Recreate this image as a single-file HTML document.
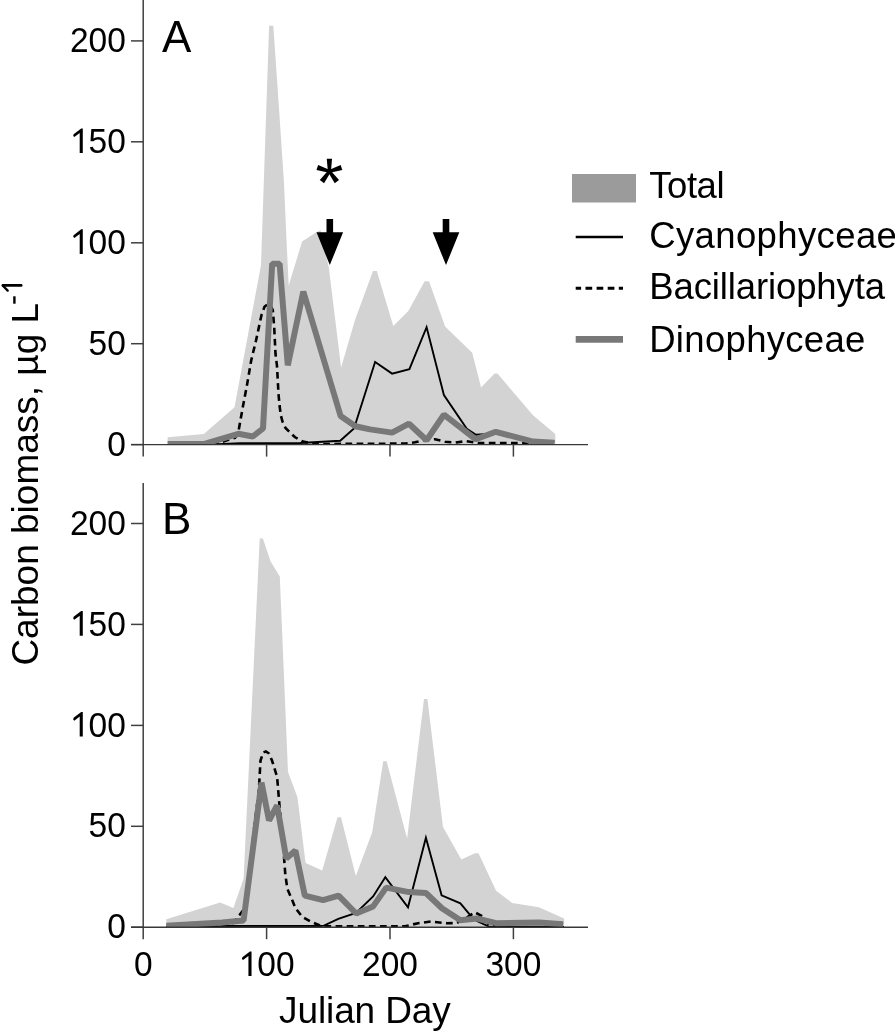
<!DOCTYPE html>
<html><head><meta charset="utf-8"><style>html,body{margin:0;padding:0;background:#fff;}svg{display:block;} text{-webkit-font-smoothing:antialiased;}</style></head>
<body><svg style="will-change:transform" width="895" height="1032" viewBox="0 0 895 1032" font-family="Liberation Sans, sans-serif">
<rect width="895" height="1032" fill="#fff"/>
<clipPath id="cA"><rect x="143.2" y="0" width="450" height="444.6"/></clipPath><g clip-path="url(#cA)"><polygon points="167.6,444.5 167.6,437.3 203.8,434.0 234.5,407.2 261.0,265.0 269.1,25.7 273.3,25.7 278.5,101.0 284.0,183.0 286.5,240.0 288.7,285.5 302.1,241.5 316.2,232.3 320.5,230.2 328.9,268.0 341.1,367.4 355.0,320.0 373.0,271.1 376.8,271.1 393.3,326.0 408.5,310.8 424.6,281.3 429.0,281.3 445.1,326.5 472.2,352.7 481.1,387.6 494.5,373.6 497.5,373.6 533.0,415.3 555.3,434.1 555.3,444.5" fill="#d3d3d3"/><polyline points="212.0,444.3 222.0,442.0 230.0,439.3 235.0,437.8 237.5,434.5 238.8,429.5 242.6,408.2 247.0,384.9 251.2,360.5 256.0,340.6 261.5,315.0 264.5,306.8 267.5,304.3 270.5,305.5 272.8,310.0 274.2,327.0 275.5,354.0 277.0,366.0 278.5,394.0 279.6,406.0 280.9,415.7 282.5,421.5 285.5,428.0 290.0,432.5 295.1,437.3 303.0,441.6 312.0,443.5 320.0,444.0 405.0,443.6 415.0,442.3 426.0,439.8 435.0,439.2 445.0,441.8 455.0,442.6 466.0,441.2 478.0,443.0 555.0,443.2" fill="none" stroke="#000" stroke-width="2.6" stroke-dasharray="6.7 4.4"/><polyline points="213.0,444.4 240.0,443.3 300.0,443.0 340.2,440.7 354.0,428.5 375.1,362.0 392.1,373.6 409.4,369.2 426.6,327.2 443.9,395.1 466.8,428.7 476.0,434.8 495.8,433.5 533.0,441.5 554.4,441.5" fill="none" stroke="#000" stroke-width="1.9" stroke-linejoin="miter"/><polyline points="167.6,443.9 204.5,443.9 238.3,433.8 252.8,436.5 263.0,428.5 272.2,263.7 279.6,263.7 287.8,365.3 303.3,291.5 340.6,416.0 355.4,426.2 370.0,429.4 392.1,432.6 409.0,423.7 426.6,440.3 443.9,414.7 475.8,439.3 495.8,431.8 533.0,441.6 554.4,442.8" fill="none" stroke="#787878" stroke-width="6" stroke-linejoin="bevel"/></g><line x1="143.2" y1="0" x2="143.2" y2="456.6" stroke="#404040" stroke-width="1.5"/><line x1="131" y1="444.6" x2="143.2" y2="444.6" stroke="#404040" stroke-width="1.5"/><text transform="translate(107.17,455.80) scale(1,1.065)" font-size="33.5">0</text><line x1="131" y1="343.7" x2="143.2" y2="343.7" stroke="#404040" stroke-width="1.5"/><text transform="translate(88.55,354.88) scale(1,1.065)" font-size="33.5">5</text><text transform="translate(107.17,354.88) scale(1,1.065)" font-size="33.5">0</text><line x1="131" y1="242.8" x2="143.2" y2="242.8" stroke="#404040" stroke-width="1.5"/><path d="M79.70,253.95 L82.79,253.95 L82.79,229.33 L81.21,229.33 L73.61,235.19 L73.20,236.87 L74.31,238.04 L79.70,234.02 Z" fill="#000"/><text transform="translate(88.55,253.95) scale(1,1.065)" font-size="33.5">0</text><text transform="translate(107.17,253.95) scale(1,1.065)" font-size="33.5">0</text><line x1="131" y1="141.8" x2="143.2" y2="141.8" stroke="#404040" stroke-width="1.5"/><path d="M79.70,153.03 L82.79,153.03 L82.79,128.40 L81.21,128.40 L73.61,134.27 L73.20,135.94 L74.31,137.11 L79.70,133.09 Z" fill="#000"/><text transform="translate(88.55,153.03) scale(1,1.065)" font-size="33.5">5</text><text transform="translate(107.17,153.03) scale(1,1.065)" font-size="33.5">0</text><line x1="131" y1="40.9" x2="143.2" y2="40.9" stroke="#404040" stroke-width="1.5"/><text transform="translate(69.92,52.10) scale(1,1.065)" font-size="33.5">2</text><text transform="translate(88.55,52.10) scale(1,1.065)" font-size="33.5">0</text><text transform="translate(107.17,52.10) scale(1,1.065)" font-size="33.5">0</text><line x1="131" y1="444.6" x2="588" y2="444.6" stroke="#383838" stroke-width="1.4"/><line x1="266.6" y1="444.6" x2="266.6" y2="456.6" stroke="#404040" stroke-width="1.5"/><line x1="390.0" y1="444.6" x2="390.0" y2="456.6" stroke="#404040" stroke-width="1.5"/><line x1="513.4" y1="444.6" x2="513.4" y2="456.6" stroke="#404040" stroke-width="1.5"/><text x="162" y="51.7" font-size="44">A</text>
<clipPath id="cB"><rect x="143.2" y="483" width="450" height="444.20000000000005"/></clipPath><g clip-path="url(#cB)"><polygon points="166.3,927.2 166.3,919.2 220.2,902.5 233.4,908.0 243.6,878.5 259.7,538.6 262.9,538.6 270.6,561.5 279.8,576.6 288.0,772.0 297.4,797.1 305.6,863.0 322.2,870.6 337.5,817.3 341.0,817.3 355.8,876.0 372.2,832.2 383.2,761.3 386.6,761.3 407.1,838.4 424.0,699.1 427.4,699.1 443.0,827.0 461.3,859.5 475.0,853.3 478.5,853.3 496.1,890.8 512.2,903.0 539.0,907.3 564.1,918.5 564.1,927.2" fill="#d3d3d3"/><polyline points="166.3,926.9 225.0,926.5 231.3,925.0 239.5,915.0 245.6,907.0 249.7,872.4 253.7,831.7 258.8,791.0 260.5,760.5 263.3,752.5 265.9,751.4 269.0,753.5 272.0,760.5 277.1,776.8 279.1,801.2 283.5,850.0 285.3,874.4 287.4,889.0 291.8,899.1 295.4,907.9 302.0,916.6 310.7,921.7 319.4,925.3 326.0,926.3 405.0,926.3 418.0,923.2 431.0,921.5 447.3,923.3 456.8,923.0 466.0,918.0 474.7,912.3 483.6,916.8 489.0,925.0 500.0,926.5" fill="none" stroke="#000" stroke-width="2.6" stroke-dasharray="6.7 4.4"/><polyline points="166.3,927.2 200.0,927.0 230.0,926.0 320.0,926.0 324.0,925.6 338.3,918.9 356.0,913.0 373.1,896.5 385.3,877.2 408.0,907.3 425.9,837.8 441.6,895.3 460.4,903.3 470.8,915.9 476.8,921.0 489.0,926.6 564.0,926.9" fill="none" stroke="#000" stroke-width="1.9" stroke-linejoin="miter"/><polyline points="166.3,925.8 222.2,922.6 243.6,920.4 261.5,782.6 269.0,820.5 277.1,805.5 286.3,858.5 295.4,850.5 304.8,895.6 323.1,900.1 338.6,895.6 356.1,913.5 373.1,906.4 386.2,887.6 408.9,892.1 425.9,893.0 441.9,908.2 460.4,920.3 476.8,918.5 496.1,923.2 539.0,922.5 563.2,924.2" fill="none" stroke="#787878" stroke-width="6" stroke-linejoin="bevel"/></g><line x1="143.2" y1="483" x2="143.2" y2="939.2" stroke="#404040" stroke-width="1.5"/><line x1="131" y1="927.2" x2="143.2" y2="927.2" stroke="#404040" stroke-width="1.5"/><text transform="translate(107.17,938.40) scale(1,1.065)" font-size="33.5">0</text><line x1="131" y1="826.3" x2="143.2" y2="826.3" stroke="#404040" stroke-width="1.5"/><text transform="translate(88.55,837.48) scale(1,1.065)" font-size="33.5">5</text><text transform="translate(107.17,837.48) scale(1,1.065)" font-size="33.5">0</text><line x1="131" y1="725.4" x2="143.2" y2="725.4" stroke="#404040" stroke-width="1.5"/><path d="M79.70,736.55 L82.79,736.55 L82.79,711.93 L81.21,711.93 L73.61,717.79 L73.20,719.47 L74.31,720.64 L79.70,716.62 Z" fill="#000"/><text transform="translate(88.55,736.55) scale(1,1.065)" font-size="33.5">0</text><text transform="translate(107.17,736.55) scale(1,1.065)" font-size="33.5">0</text><line x1="131" y1="624.4" x2="143.2" y2="624.4" stroke="#404040" stroke-width="1.5"/><path d="M79.70,635.63 L82.79,635.63 L82.79,611.00 L81.21,611.00 L73.61,616.87 L73.20,618.54 L74.31,619.71 L79.70,615.69 Z" fill="#000"/><text transform="translate(88.55,635.63) scale(1,1.065)" font-size="33.5">5</text><text transform="translate(107.17,635.63) scale(1,1.065)" font-size="33.5">0</text><line x1="131" y1="523.5" x2="143.2" y2="523.5" stroke="#404040" stroke-width="1.5"/><text transform="translate(69.92,534.70) scale(1,1.065)" font-size="33.5">2</text><text transform="translate(88.55,534.70) scale(1,1.065)" font-size="33.5">0</text><text transform="translate(107.17,534.70) scale(1,1.065)" font-size="33.5">0</text><line x1="131" y1="927.2" x2="588" y2="927.2" stroke="#383838" stroke-width="1.4"/><line x1="266.6" y1="927.2" x2="266.6" y2="939.2" stroke="#404040" stroke-width="1.5"/><line x1="390.0" y1="927.2" x2="390.0" y2="939.2" stroke="#404040" stroke-width="1.5"/><line x1="513.4" y1="927.2" x2="513.4" y2="939.2" stroke="#404040" stroke-width="1.5"/><text transform="translate(133.89,976.00) scale(1,1.065)" font-size="33.5">0</text><path d="M248.44,976.00 L251.53,976.00 L251.53,951.38 L249.95,951.38 L242.35,957.24 L241.94,958.91 L243.05,960.09 L248.44,956.07 Z" fill="#000"/><text transform="translate(257.29,976.00) scale(1,1.065)" font-size="33.5">0</text><text transform="translate(275.91,976.00) scale(1,1.065)" font-size="33.5">0</text><text transform="translate(362.06,976.00) scale(1,1.065)" font-size="33.5">2</text><text transform="translate(380.69,976.00) scale(1,1.065)" font-size="33.5">0</text><text transform="translate(399.31,976.00) scale(1,1.065)" font-size="33.5">0</text><text transform="translate(485.46,976.00) scale(1,1.065)" font-size="33.5">3</text><text transform="translate(504.09,976.00) scale(1,1.065)" font-size="33.5">0</text><text transform="translate(522.71,976.00) scale(1,1.065)" font-size="33.5">0</text><text x="162" y="534.4" font-size="44">B</text>
<polygon points="326.5,219 333.1,219 333.1,232.2 343.1,232.2 329.8,265.1 316.5,232.2 326.5,232.2" fill="#000"/><polygon points="442.7,219 449.3,219 449.3,232.2 459.3,232.2 446.0,265.1 432.7,232.2 442.7,232.2" fill="#000"/>
<g transform="translate(329.4,171.4)"><g transform="rotate(0)"><polygon points="-1.5,0 1.5,0 2.65,-12.7 -2.65,-12.7" fill="#000"/></g><g transform="rotate(72)"><polygon points="-1.5,0 1.5,0 2.65,-12.7 -2.65,-12.7" fill="#000"/></g><g transform="rotate(144)"><polygon points="-1.5,0 1.5,0 2.65,-12.7 -2.65,-12.7" fill="#000"/></g><g transform="rotate(216)"><polygon points="-1.5,0 1.5,0 2.65,-12.7 -2.65,-12.7" fill="#000"/></g><g transform="rotate(288)"><polygon points="-1.5,0 1.5,0 2.65,-12.7 -2.65,-12.7" fill="#000"/></g><circle r="2.2" fill="#000"/></g>
<rect x="572" y="174" width="64" height="28.5" fill="#9b9b9b"/>
<line x1="575.7" y1="237" x2="623" y2="237" stroke="#000" stroke-width="2.4"/>
<line x1="575.7" y1="288.2" x2="623" y2="288.2" stroke="#000" stroke-width="3" stroke-dasharray="6.7 4.4" stroke-dashoffset="1.3"/>
<line x1="575.7" y1="339.4" x2="623" y2="339.4" stroke="#787878" stroke-width="6.8"/>
<text x="649.2" y="198" font-size="36.5" textLength="75.4" lengthAdjust="spacing">Total</text>
<text x="649.2" y="247.8" font-size="36.5" textLength="247.7" lengthAdjust="spacing">Cyanophyceae</text>
<text x="649.2" y="299.2" font-size="36.5" textLength="235.8" lengthAdjust="spacing">Bacillariophyta</text>
<text x="649.2" y="351.5" font-size="36.5" textLength="216.2" lengthAdjust="spacing">Dinophyceae</text>
<text x="279.1" y="1023" font-size="37" textLength="171.7" lengthAdjust="spacing">Julian Day</text>
<g transform="translate(38,665.6) rotate(-90)"><text x="0" y="0" font-size="37">Carbon biomass, µg L</text></g>
<rect x="13.2" y="296.3" width="2.4" height="7.4" fill="#000"/><line x1="21.2" y1="285.4" x2="2.9" y2="285.4" stroke="#000" stroke-width="2.65" stroke-linecap="round"/><line x1="2.9" y1="285.7" x2="7.7" y2="290.6" stroke="#000" stroke-width="2.3" stroke-linecap="round"/>
</svg></body></html>
